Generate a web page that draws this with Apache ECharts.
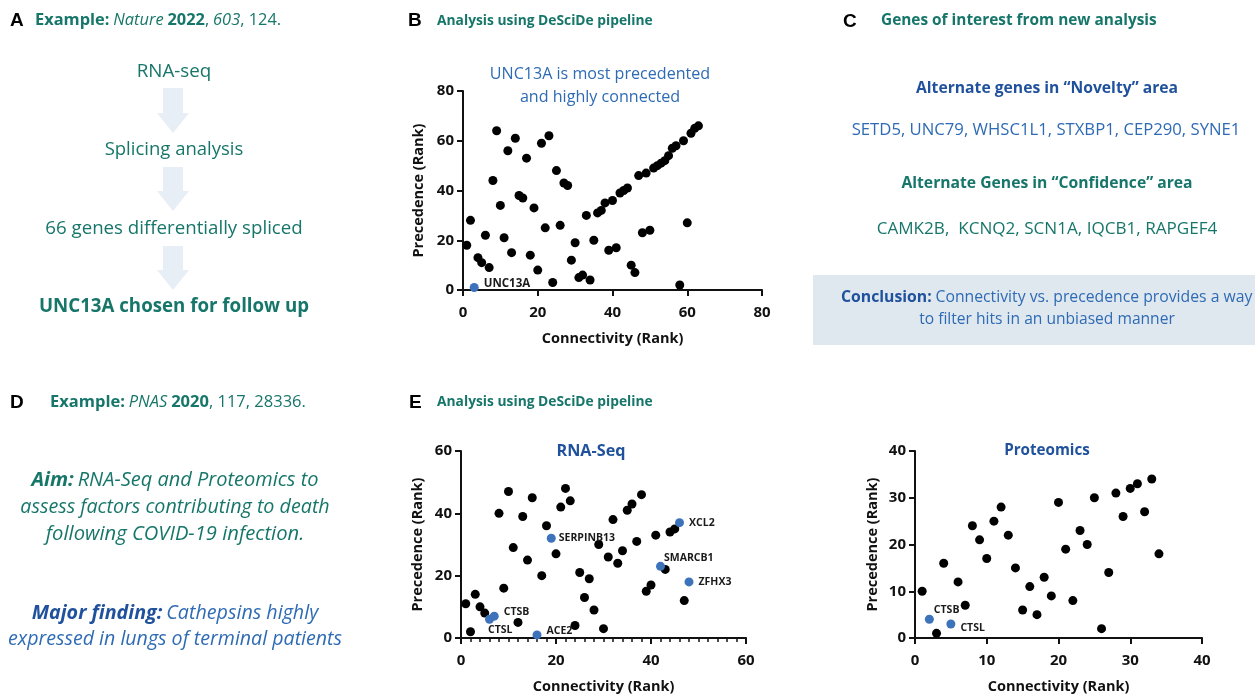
<!DOCTYPE html>
<html><head><meta charset="utf-8">
<script src="https://cdn.jsdelivr.net/npm/echarts@6/dist/echarts.min.js"></script>
<style>html,body{margin:0;padding:0;background:#fff}#c{width:1255px;height:695px}</style>
</head><body><div id="c"></div>
<script>
// ---- Panel B data (Connectivity rank vs Precedence rank)
const bConnectivity = [1,2,4,5,6,7,8,9,10,11,12,13,14,15,16,17,18,19,20,21,22,23,24,25,26,27,28,29,30,31,32,33,34,35,36,37,38,39,40,41,42,43,44,45,46,47,48,49,50,51,52,53,54,55,56,57,58,59,60,61,62,63];
const bPrecedence   = [18,28,13,11,22,9,44,64,34,21,56,15,61,38,37,53,14,33,8,59,25,62,3,48,26,43,42,12,19,5,6,30,4,20,31,32,35,16,36,17,39,40,41,10,7,46,23,47,24,49,50,51,52,54,57,58,2,60,27,63,65,66];
const bHiNames = ['UNC13A'];
const bHiConn  = [3];
const bHiPrec  = [1];
const bTicks = [0,20,40,60,80];

// ---- Panel E RNA-Seq
const rnaConnectivity = [1,2,3,4,5,8,9,10,11,12,13,14,15,17,18,20,21,22,23,24,25,26,27,28,29,30,31,32,33,34,35,36,37,38,39,40,41,43,44,45,47];
const rnaPrecedence   = [11,2,14,10,8,40,16,47,29,5,39,25,45,20,36,27,42,48,44,4,21,13,19,9,30,3,26,38,24,28,41,43,31,46,15,17,33,22,34,35,12];
const rnaHiNames = ['CTSL','CTSB','ACE2','SERPINB13','SMARCB1','XCL2','ZFHX3'];
const rnaHiConn  = [6,7,16,19,42,46,48];
const rnaHiPrec  = [6,7,1,32,23,37,18];
const rnaTicks = [0,20,40,60];

// ---- Panel E Proteomics
const protConnectivity = [1,3,4,6,7,8,9,10,11,12,13,14,15,16,17,18,19,20,21,22,23,24,25,26,27,28,29,30,31,32,33,34];
const protPrecedence   = [10,1,16,12,7,24,21,17,25,28,22,15,6,11,5,13,9,29,19,8,23,20,30,2,14,31,26,32,33,27,34,18];
const protHiNames = ['CTSB','CTSL'];
const protHiConn  = [2,5];
const protHiPrec  = [4,3];
const protTicks = [0,10,20,30,40];

// ---- styling (not data)
const FONT = '"Open Sans", Lato, sans-serif';
const TEAL = '#17766a';
const BLUE_D = '#1f519c';
const BLUE = '#2e6bb4';
const PT_BLUE = '#3d73bb';
const labelPlace = {
  'UNC13A':   {position:'right', offset:[0,-4], size:11.5},
  'CTSL_rna': {position:'right', offset:[-11,11]},
  'CTSB_rna': {position:'right', offset:[0,-4]},
  'ACE2':     {position:'right', offset:[0,-4]},
  'SERPINB13':{position:'right', offset:[-2,0]},
  'SMARCB1':  {position:'right', offset:[-6,-8]},
  'XCL2':     {position:'right', offset:[0,0]},
  'ZFHX3':    {position:'right', offset:[0,0]},
  'CTSB_prot':{position:'right', offset:[-5,-9]},
  'CTSL_prot':{position:'right', offset:[0,4]}
};

function zip(xs, ys){ return xs.map((x,i)=>[x, ys[i]]); }
function hiData(names, xs, ys, suffix){
  return names.map((n,i)=>{
    const key = labelPlace[n] ? n : n + suffix;
    const p = labelPlace[key] || {position:'right', offset:[0,0]};
    return {name:n, value:[xs[i], ys[i]], label:{position:p.position, offset:p.offset, fontSize:p.size || 10.5}};
  });
}
function axisBase(ticks, minor, margin){
  return {
    type:'value', min:ticks[0], max:ticks[ticks.length-1], interval:ticks[1]-ticks[0],
    axisLine:{show:true, onZero:false, lineStyle:{color:'#111', width:2}},
    axisTick:{show:true, length:6, lineStyle:{color:'#111', width:2}},
    minorTick: minor ? {show:true, splitNumber:10, length:4, lineStyle:{color:'#111', width:1.5}} : {show:false},
    axisLabel:{color:'#111', fontSize:15, fontWeight:'bold', fontFamily:FONT, margin:margin},
    splitLine:{show:false},
    nameLocation:'middle',
    nameTextStyle:{color:'#111', fontSize:14.5, fontWeight:'bold', fontFamily:FONT}
  };
}
const hiLabel = {show:true, formatter:'{b}', color:'#1a1a1a', fontSize:10.5, fontWeight:'bold', fontFamily:FONT, distance:5};

const chart = echarts.init(document.getElementById('c'), null, {renderer:'canvas'});

function txt(x, y, text, opt){
  return Object.assign({type:'text', x:x, y:y, silent:true,
    style:Object.assign({text:text, fill:TEAL, fontFamily:FONT, fontSize:15, align:'left', verticalAlign:'middle'}, opt||{})});
}
function arrow(cx, y0, y1){
  const sw = 10, hw = 16, hh = 20;
  return {type:'polygon', silent:true, shape:{points:[
    [cx-sw,y0],[cx+sw,y0],[cx+sw,y1-hh],[cx+hw,y1-hh],[cx,y1],[cx-hw,y1-hh],[cx-sw,y1-hh]]},
    style:{fill:'#e8eef5'}};
}
function richSet(size, colB, colN){
  return {
    b:{fontWeight:'bold', fill:colB, fontFamily:FONT, fontSize:size},
    bi:{fontWeight:'bold', fontStyle:'italic', fill:colB, fontFamily:FONT, fontSize:size},
    i:{fontStyle:'italic', fill:colN, fontFamily:FONT, fontSize:size},
    n:{fill:colN, fontFamily:FONT, fontSize:size}
  };
}
const LETTER = {fill:'#000', fontFamily:'"Liberation Sans", Arial, sans-serif', fontWeight:'bold', fontSize:19};

const graphic = [
  // Panel letters
  txt(10, 21, 'A', LETTER),
  txt(408, 21, 'B', LETTER),
  txt(843, 22, 'C', LETTER),
  txt(10, 403, 'D', LETTER),
  txt(409, 403, 'E', LETTER),
  // Panel A
  txt(35, 20, '{b|Example:} {i|Nature} {b|2022}{n|,} {i|603}{n|, 124.}', {rich:richSet(16.4, TEAL, TEAL)}),
  arrow(173, 88, 133), arrow(173, 167, 211), arrow(173, 246, 290),
  txt(174, 72, 'RNA-seq', {align:'center', fontSize:18.8}),
  txt(174, 150, 'Splicing analysis', {align:'center', fontSize:18.5}),
  txt(174, 229, '66 genes differentially spliced', {align:'center', fontSize:18.7}),
  txt(174, 307, 'UNC13A chosen for follow up', {align:'center', fontSize:18.7, fontWeight:'bold'}),
  // Panel B titles
  txt(437, 21, 'Analysis using DeSciDe pipeline', {fontWeight:'bold', fontSize:13.8}),
  txt(600, 74, 'UNC13A is most precedented', {align:'center', fill:BLUE, fontSize:16.1}),
  txt(600, 97, 'and highly connected', {align:'center', fill:BLUE, fontSize:16.1}),
  // Panel C
  txt(881, 21, 'Genes of interest from new analysis', {fontWeight:'bold', fontSize:15.4}),
  txt(1047, 89, 'Alternate genes in \u201cNovelty\u201d area', {align:'center', fill:BLUE_D, fontWeight:'bold', fontSize:15.7}),
  txt(1046, 130, 'SETD5, UNC79, WHSC1L1, STXBP1, CEP290, SYNE1', {align:'center', fill:BLUE, fontSize:16.7}),
  txt(1047, 184, 'Alternate Genes in \u201cConfidence\u201d area', {align:'center', fill:TEAL, fontWeight:'bold', fontSize:15.7}),
  txt(1047, 229, 'CAMK2B,  KCNQ2, SCN1A, IQCB1, RAPGEF4', {align:'center', fill:TEAL, fontSize:17.1}),
  {type:'rect', silent:true, shape:{x:813, y:275, width:450, height:70}, style:{fill:'#dfe7ef'}, z:-1},
  txt(841, 298, '{b|Conclusion:} {n|Connectivity vs. precedence provides a way}', {rich:richSet(15.75, BLUE_D, BLUE)}),
  txt(1047, 320, 'to filter hits in an unbiased manner', {align:'center', fill:BLUE, fontSize:15.6}),
  // Panel D
  txt(50, 402, '{b|Example:} {i|PNAS} {b|2020}{n|, 117, 28336.}', {rich:richSet(16.5, TEAL, TEAL)}),
  txt(175, 480, '{bi|Aim:} {i|RNA-Seq and Proteomics to}', {align:'center', rich:richSet(20, TEAL, TEAL)}),
  txt(175, 507, 'assess factors contributing to death', {align:'center', fontStyle:'italic', fontSize:19.7}),
  txt(175, 534, 'following COVID-19 infection.', {align:'center', fontStyle:'italic', fontSize:20.2}),
  txt(175, 613, '{bi|Major finding:} {i|Cathepsins highly}', {align:'center', rich:richSet(19.7, BLUE_D, BLUE)}),
  txt(175, 639, 'expressed in lungs of terminal patients', {align:'center', fontStyle:'italic', fill:BLUE, fontSize:19.6}),
  // Panel E titles
  txt(437, 402, 'Analysis using DeSciDe pipeline', {fontWeight:'bold', fontSize:13.8}),
  txt(591, 451, 'RNA-Seq', {align:'center', fill:BLUE_D, fontWeight:'bold', fontSize:16.2}),
  txt(1047, 451, 'Proteomics', {align:'center', fill:BLUE_D, fontWeight:'bold', fontSize:15.2})
];

const xB = Object.assign(axisBase(bTicks,false,15), {gridIndex:0, name:'Connectivity (Rank)', nameGap:41});
const yB = Object.assign(axisBase(bTicks,false,9), {gridIndex:0, name:'Precedence (Rank)', nameGap:37});
const xR = Object.assign(axisBase(rnaTicks,true,15), {gridIndex:1, name:'Connectivity (Rank)', nameGap:41});
const yR = Object.assign(axisBase(rnaTicks,false,9), {gridIndex:1, name:'Precedence (Rank)', nameGap:36});
const xP = Object.assign(axisBase(protTicks,false,15), {gridIndex:2, name:'Connectivity (Rank)', nameGap:41});
const yP = Object.assign(axisBase(protTicks,false,9), {gridIndex:2, name:'Precedence (Rank)', nameGap:35});

const blackStyle = {color:'#000', opacity:1};
const blueStyle = {color:PT_BLUE, opacity:1};
const option = {
  backgroundColor:'#fff',
  animation:false,
  grid:[
    {left:463, top:91, width:299, height:199},
    {left:461, top:451, width:285, height:189},
    {left:915, top:451, width:287, height:190}
  ],
  xAxis:[xB, xR, xP],
  yAxis:[yB, yR, yP],
  graphic: graphic,
  series:[
    {type:'scatter', xAxisIndex:0, yAxisIndex:0, symbolSize:9, itemStyle:blackStyle, data:zip(bConnectivity,bPrecedence)},
    {type:'scatter', xAxisIndex:0, yAxisIndex:0, symbolSize:9, itemStyle:blueStyle, label:hiLabel, data:hiData(bHiNames,bHiConn,bHiPrec,''), z:3},
    {type:'scatter', xAxisIndex:1, yAxisIndex:1, symbolSize:9, itemStyle:blackStyle, data:zip(rnaConnectivity,rnaPrecedence)},
    {type:'scatter', xAxisIndex:1, yAxisIndex:1, symbolSize:9, itemStyle:blueStyle, label:hiLabel, data:hiData(rnaHiNames,rnaHiConn,rnaHiPrec,'_rna'), z:3},
    {type:'scatter', xAxisIndex:2, yAxisIndex:2, symbolSize:9, itemStyle:blackStyle, data:zip(protConnectivity,protPrecedence)},
    {type:'scatter', xAxisIndex:2, yAxisIndex:2, symbolSize:9, itemStyle:blueStyle, label:hiLabel, data:hiData(protHiNames,protHiConn,protHiPrec,'_prot'), z:3}
  ]
};
chart.setOption(option);
</script>
</body></html>
